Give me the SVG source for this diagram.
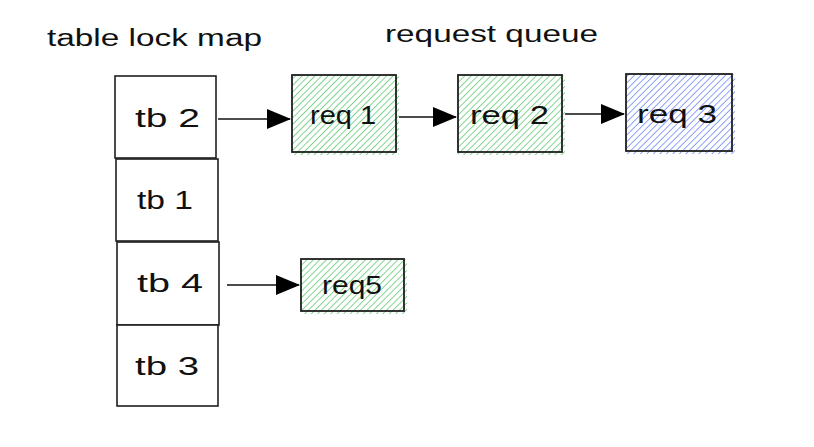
<svg xmlns="http://www.w3.org/2000/svg" width="814" height="447" viewBox="0 0 814 447">
<style>
.t{font-family:"Liberation Sans",Arial,sans-serif;fill:#111}
.lbl{font-size:25px}
.ttl{font-size:23px}
.box{fill:#fff;stroke:#1e1e1e;stroke-width:1.6}
.hb{stroke:#1e1e1e;stroke-width:1.8;fill:none}
.con line{stroke:#111;stroke-width:1.4}
</style>
<defs>
<pattern id="hg" width="4.6" height="4.6" patternUnits="userSpaceOnUse" patternTransform="rotate(45)">
<line x1="0" y1="0" x2="0" y2="4.6" stroke="#40c057" stroke-width="1.3"/>
</pattern>
<pattern id="hbl" width="4.6" height="4.6" patternUnits="userSpaceOnUse" patternTransform="rotate(45)">
<line x1="0" y1="0" x2="0" y2="4.6" stroke="#4c6ef5" stroke-width="1.3"/>
</pattern>
<marker id="ah" markerWidth="24" markerHeight="20" refX="23" refY="10" orient="auto" markerUnits="userSpaceOnUse">
<path d="M0,0 L24,10 L0,20 Z" fill="#000"/>
</marker>
</defs>
<rect width="814" height="447" fill="#fff"/>
<text class="t ttl" x="47" y="46" textLength="215" lengthAdjust="spacingAndGlyphs">table lock map</text>
<text class="t ttl" x="385" y="42" textLength="213" lengthAdjust="spacingAndGlyphs">request queue</text>
<g id="tb2"><rect class="box" x="115" y="76" width="101" height="82"/><text class="t lbl" x="135" y="127" textLength="65" lengthAdjust="spacingAndGlyphs">tb 2</text></g>
<g id="tb1"><rect class="box" x="116" y="159" width="102" height="82"/><text class="t lbl" x="137" y="209" textLength="56" lengthAdjust="spacingAndGlyphs">tb 1</text></g>
<g id="tb4"><rect class="box" x="117" y="242" width="102" height="83"/><text class="t lbl" x="137" y="292" textLength="66" lengthAdjust="spacingAndGlyphs">tb 4</text></g>
<g id="tb3"><rect class="box" x="117" y="325" width="101" height="81"/><text class="t lbl" x="135" y="375" textLength="64" lengthAdjust="spacingAndGlyphs">tb 3</text></g>
<g id="req1"><rect x="292" y="75" width="107" height="80" fill="url(#hg)"/><rect class="hb" x="292" y="75" width="104" height="77"/><text class="t lbl" x="310" y="124" textLength="66" lengthAdjust="spacingAndGlyphs">req 1</text></g>
<g id="req2"><rect x="458" y="75" width="107" height="80" fill="url(#hg)"/><rect class="hb" x="458" y="75" width="104" height="77"/><text class="t lbl" x="470" y="124" textLength="79" lengthAdjust="spacingAndGlyphs">req 2</text></g>
<g id="req3"><rect x="626" y="74" width="109" height="80" fill="url(#hbl)"/><rect class="hb" x="626" y="74" width="106" height="77"/><text class="t lbl" x="637" y="123" textLength="80" lengthAdjust="spacingAndGlyphs">req 3</text></g>
<g id="req5"><rect x="301" y="259" width="106" height="55" fill="url(#hg)"/><rect class="hb" x="301" y="259" width="103" height="52"/><text class="t lbl" x="322" y="294" textLength="60" lengthAdjust="spacingAndGlyphs">req5</text></g>
<g class="con" id="connectors">
<line x1="218" y1="119" x2="290" y2="119" marker-end="url(#ah)"/>
<line x1="399" y1="117" x2="456" y2="117" marker-end="url(#ah)"/>
<line x1="565" y1="114" x2="624" y2="114" marker-end="url(#ah)"/>
<line x1="227" y1="285" x2="299" y2="285" marker-end="url(#ah)"/>
</g>
</svg>
